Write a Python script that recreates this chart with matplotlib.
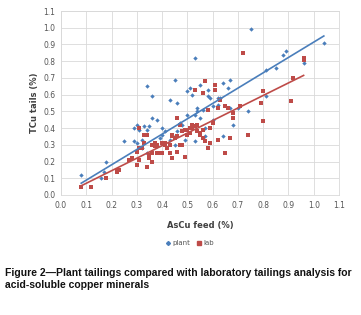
import matplotlib
matplotlib.use("Agg")
import matplotlib.pyplot as plt
from matplotlib.lines import Line2D
import numpy as np

# plant tailings (AsCu feed %, TCu tails %)
plant_x = [0.08, 0.17, 0.18, 0.16, 0.25, 0.29, 0.29, 0.30, 0.30, 0.31, 0.32, 0.33,
           0.34, 0.34, 0.35, 0.36, 0.36, 0.38, 0.39, 0.40, 0.40, 0.43, 0.45, 0.46,
           0.47, 0.48, 0.50, 0.51, 0.52, 0.53, 0.53, 0.54, 0.54, 0.55, 0.55, 0.56,
           0.57, 0.58, 0.58, 0.59, 0.60, 0.62, 0.63, 0.64, 0.64, 0.66, 0.67, 0.67,
           0.68, 0.70, 0.74, 0.75, 0.81, 0.81, 0.85, 0.88, 0.89, 0.96, 1.04, 0.53,
           0.49, 0.45, 0.43, 0.38, 0.32, 0.34, 0.41, 0.44, 0.50, 0.57, 0.60, 0.62,
           0.46]
plant_y = [0.12, 0.14, 0.20, 0.10, 0.32, 0.40, 0.32, 0.31, 0.42, 0.39, 0.28, 0.41,
           0.65, 0.39, 0.41, 0.59, 0.46, 0.45, 0.34, 0.40, 0.36, 0.57, 0.69, 0.55,
           0.43, 0.42, 0.62, 0.64, 0.60, 0.82, 0.48, 0.50, 0.52, 0.46, 0.66, 0.51,
           0.35, 0.63, 0.59, 0.58, 0.53, 0.58, 0.58, 0.67, 0.35, 0.64, 0.69, 0.52,
           0.42, 0.52, 0.50, 0.99, 0.75, 0.59, 0.76, 0.84, 0.86, 0.79, 0.91, 0.32,
           0.33, 0.30, 0.33, 0.29, 0.33, 0.25, 0.38, 0.36, 0.48, 0.40, 0.45, 0.54,
           0.38]

# laboratory tailings
lab_x = [0.08, 0.12, 0.18, 0.22, 0.22, 0.23, 0.27, 0.28, 0.30, 0.30, 0.31, 0.31,
         0.32, 0.33, 0.34, 0.34, 0.35, 0.35, 0.36, 0.36, 0.36, 0.37, 0.37, 0.38,
         0.38, 0.39, 0.40, 0.40, 0.41, 0.42, 0.43, 0.44, 0.44, 0.45, 0.46, 0.46,
         0.46, 0.47, 0.47, 0.48, 0.48, 0.49, 0.50, 0.51, 0.52, 0.53, 0.53, 0.54,
         0.54, 0.55, 0.55, 0.56, 0.56, 0.57, 0.57, 0.58, 0.58, 0.59, 0.59, 0.60,
         0.61, 0.61, 0.62, 0.62, 0.63, 0.65, 0.65, 0.66, 0.67, 0.68, 0.68, 0.71,
         0.72, 0.74, 0.79, 0.80, 0.80, 0.91, 0.92, 0.96, 0.96, 0.52, 0.56, 0.43,
         0.41, 0.33, 0.31, 0.49, 0.50, 0.44, 0.51]
lab_y = [0.05, 0.05, 0.10, 0.14, 0.15, 0.15, 0.21, 0.22, 0.18, 0.26, 0.40, 0.21,
         0.28, 0.36, 0.36, 0.17, 0.22, 0.24, 0.20, 0.30, 0.25, 0.29, 0.31, 0.25,
         0.30, 0.25, 0.25, 0.31, 0.30, 0.28, 0.30, 0.22, 0.36, 0.34, 0.35, 0.26,
         0.46, 0.30, 0.42, 0.38, 0.30, 0.23, 0.39, 0.37, 0.40, 0.63, 0.41, 0.42,
         0.38, 0.36, 0.37, 0.61, 0.39, 0.68, 0.32, 0.28, 0.51, 0.31, 0.40, 0.43,
         0.63, 0.66, 0.33, 0.52, 0.57, 0.53, 0.25, 0.52, 0.34, 0.46, 0.49, 0.53,
         0.85, 0.36, 0.55, 0.62, 0.44, 0.56, 0.70, 0.81, 0.82, 0.42, 0.34, 0.25,
         0.31, 0.31, 0.28, 0.39, 0.36, 0.35, 0.40]

# linear trend lines as shown in the chart (slope, intercept)
plant_trend = [0.917, -0.003]
lab_trend = [0.75, -0.005]

blue = "#4a7ebb"
red = "#be4b48"

fig = plt.figure(figsize=(3.61, 3.15), dpi=100)
ax = fig.add_axes([0.169, 0.381, 0.770, 0.584])

ax.scatter(plant_x, plant_y, s=5, marker="D", color=blue, zorder=3, linewidths=0)
ax.scatter(lab_x, lab_y, s=9, marker="s", color=red, zorder=3, linewidths=0)

for xs, (k, b), c in [(plant_x, plant_trend, blue), (lab_x, lab_trend, red)]:
    xx = np.array([min(xs), max(xs)])
    ax.plot(xx, k * xx + b, color=c, lw=1.2, zorder=4)

ax.set_xlim(0, 1.1)
ax.set_ylim(0, 1.1)
ticks = np.round(np.arange(0, 1.11, 0.1), 1)
ax.set_xticks(ticks)
ax.set_yticks(ticks)
ax.set_xticklabels([f"{t:.1f}" for t in ticks])
ax.set_yticklabels([f"{t:.1f}" for t in ticks])
ax.tick_params(labelsize=5.5, colors="#555555", length=0, pad=4)
ax.grid(True, color="#d9d9d9", lw=0.6)
ax.set_axisbelow(True)
for s in ax.spines.values():
    s.set_color("#d9d9d9")
    s.set_linewidth(0.6)

ax.set_xlabel("AsCu feed (%)", fontsize=6, fontweight="bold", color="#404040", labelpad=8)
ax.set_ylabel("TCu tails (%)", fontsize=6, fontweight="bold", color="#404040", labelpad=3)

handles = [Line2D([], [], ls="none", marker="D", ms=2, color=blue),
           Line2D([], [], ls="none", marker="s", ms=2.8, color=red)]
fig.legend(handles, ["plant", "lab"], loc="center", bbox_to_anchor=(0.525, 0.228),
           ncol=2, frameon=False, fontsize=5, handletextpad=0.1, columnspacing=0.8,
           handlelength=1, labelcolor="#555555")

fig.text(0.014, 0.115, "Figure 2\u2014Plant tailings compared with laboratory tailings analysis for\nacid-soluble copper minerals",
         fontsize=7.5, fontweight="bold", family="Liberation Sans", ha="left", va="center",
         linespacing=1.3, color="#111111")

fig.savefig("out.png", dpi=100, facecolor="white")
